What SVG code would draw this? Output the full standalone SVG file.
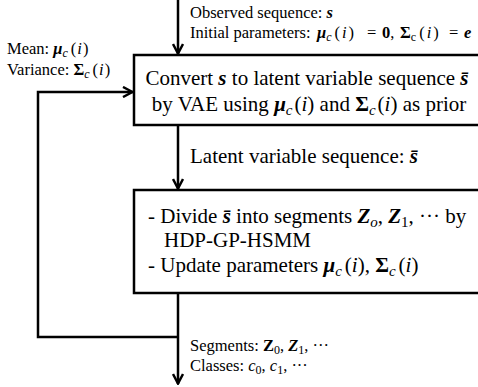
<svg xmlns="http://www.w3.org/2000/svg" width="478" height="387" viewBox="0 0 478 387">
<style>
text{font-family:"Liberation Serif","Times New Roman",serif;fill:#000}
.sm{font-size:16.5px}
.bx{font-size:21px}
.bi{font-weight:bold;font-style:italic}
.b{font-weight:bold}
.it{font-style:italic}
.box{fill:#fff;stroke:#000;stroke-width:2.5}
.ln{fill:none;stroke:#000;stroke-width:2.5}
</style>
<defs>
<marker id="ah" viewBox="0 0 12 12" refX="11" refY="6" markerWidth="12" markerHeight="12" markerUnits="userSpaceOnUse" orient="auto">
<path d="M1,1 L10.5,6 L1,11" fill="none" stroke="#000" stroke-width="2.5"/>
</marker>
</defs>
<g id="connectors">
<path class="ln" d="M178,0 V54" marker-end="url(#ah)"/>
<path class="ln" d="M178,126 V189" marker-end="url(#ah)"/>
<path class="ln" d="M178,294 V384" marker-end="url(#ah)"/>
<path class="ln" d="M178,337 H38 V92 H133" marker-end="url(#ah)"/>
</g>
<g id="input-label">
<text class="sm" x="190" y="18">Observed sequence: <tspan class="bi">s</tspan></text>
<text class="sm" x="190" y="38">Initial parameters:<tspan class="bi" x="317">μ</tspan><tspan class="it" font-size="12" baseline-shift="-3">c</tspan><tspan dx="3">(</tspan><tspan class="it" dx="2">i</tspan><tspan dx="2">)</tspan><tspan x="367">=</tspan><tspan class="b" x="382">0</tspan>,<tspan class="b" x="400">Σ</tspan><tspan font-size="12" baseline-shift="-3">c</tspan><tspan dx="3">(</tspan><tspan class="it" dx="2">i</tspan><tspan dx="2">)</tspan><tspan x="449">=</tspan><tspan class="bi" x="464">e</tspan></text>
</g>
<g id="prior-label">
<text class="sm" x="7" y="54">Mean: <tspan class="bi">μ</tspan><tspan class="it" font-size="12" baseline-shift="-3">c</tspan><tspan dx="3">(</tspan><tspan class="it" dx="1">i</tspan><tspan dx="1">)</tspan></text>
<text class="sm" x="7" y="75">Variance: <tspan class="b">Σ</tspan><tspan class="it" font-size="12" baseline-shift="-3">c</tspan><tspan dx="3">(</tspan><tspan class="it" dx="1">i</tspan><tspan dx="1">)</tspan></text>
</g>
<g id="vae">
<rect class="box" x="134" y="55" width="350" height="70"/>
<text class="bx" x="307" y="85" text-anchor="middle">Convert <tspan class="bi">s</tspan> to latent variable sequence <tspan class="bi">s̄</tspan></text>
<text class="bx" x="309" y="111" text-anchor="middle">by VAE using <tspan class="bi">μ</tspan><tspan class="it" font-size="15" baseline-shift="-4">c</tspan><tspan dx="2">(</tspan><tspan class="it">i</tspan>) and <tspan class="b">Σ</tspan><tspan class="it" font-size="15" baseline-shift="-4">c</tspan><tspan dx="2">(</tspan><tspan class="it">i</tspan>) as prior</text>
</g>
<g id="latent-label">
<text x="190" y="163" font-size="21">Latent variable sequence: <tspan class="bi">s̄</tspan></text>
</g>
<g id="hsmm">
<rect class="box" x="134" y="190" width="350" height="103"/>
<text class="bx" x="148" y="223">-  Divide <tspan class="bi">s̄</tspan> into segments <tspan class="bi">Z</tspan><tspan class="it" font-size="15" baseline-shift="-4">o</tspan>, <tspan class="bi">Z</tspan><tspan font-size="15" baseline-shift="-4">1</tspan>, ··· by</text>
<text class="bx" x="164" y="247">HDP-GP-HSMM</text>
<text class="bx" x="148" y="272">-  Update parameters <tspan class="bi">μ</tspan><tspan class="it" font-size="15" baseline-shift="-4">c</tspan><tspan dx="3">(</tspan><tspan class="it">i</tspan>), <tspan class="b">Σ</tspan><tspan class="it" font-size="15" baseline-shift="-4">c</tspan><tspan dx="3">(</tspan><tspan class="it">i</tspan>)</text>
</g>
<g id="output-label">
<text class="sm" x="190" y="351">Segments: <tspan class="b">Z</tspan><tspan font-size="12" baseline-shift="-3">0</tspan>, <tspan class="bi">Z</tspan><tspan font-size="12" baseline-shift="-3">1</tspan>, ···</text>
<text class="sm" x="190" y="371">Classes: <tspan class="it">c</tspan><tspan font-size="12" baseline-shift="-3">0</tspan>, <tspan class="it">c</tspan><tspan font-size="12" baseline-shift="-3">1</tspan>, ···</text>
</g>
</svg>
